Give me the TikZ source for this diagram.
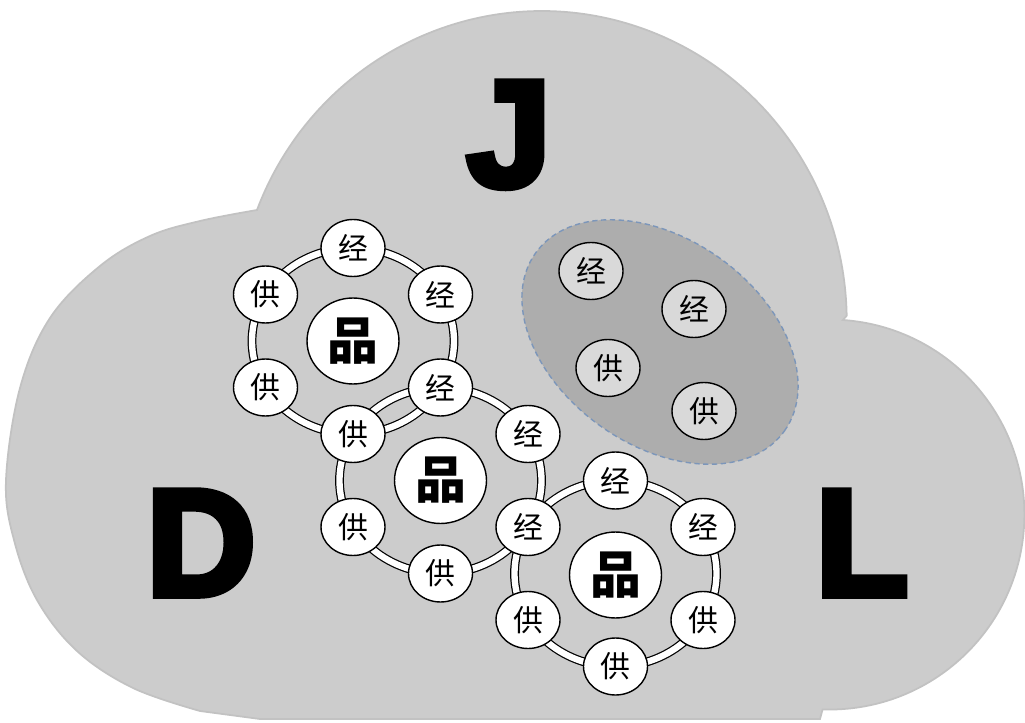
\documentclass[tikz,border=0pt]{standalone}
\usepackage{fontspec}
\newfontfamily\cjk{Noto Sans CJK SC}
\newfontfamily\letterfont{Liberation Sans}[BoldFeatures={FakeBold=5}]
\usetikzlibrary{shapes.geometric,calc}

\definecolor{cloudgray}{RGB}{204,204,204}
\definecolor{cloudedge}{RGB}{194,194,194}
\definecolor{groupgray}{RGB}{173,173,173}
\definecolor{membergray}{RGB}{217,217,217}
\definecolor{dashblue}{RGB}{124,150,186}

\tikzset{
	member/.style={draw, ellipse, fill=white, line width=0.8pt, minimum width=1.28cm, minimum height=1.14cm, inner sep=0pt, font=\cjk\fontsize{17}{17}\selectfont},
	hub/.style={member, minimum width=1.84cm, minimum height=1.72cm, font=\cjk\bfseries\fontsize{29}{29}\selectfont},
	ingroup/.style={member, fill=membergray},
	ring/.style={line width=0.7pt, double=white, double distance=3.6pt},
	bigletter/.style={font=\letterfont\bfseries\fontsize{86}{86}\selectfont, inner sep=0pt, anchor=base}
}

\begin{document}
\begin{tikzpicture}[x=0.02cm,y=0.02cm]
	\useasboundingbox (0,0) rectangle (1025,-723);
	
	% cloud
	\fill[cloudgray, draw=cloudedge, line width=1pt] (257,-210) arc [start angle=159, end angle=1, x radius=305, y radius=310]
		-- (843,-320) arc [start angle=86, end angle=-92, radius=195]
		-- (820,-719) -- (260,-719)
		-- plot[smooth, tension=0.6] coordinates {(200,-711) (133,-688) (77,-651) (37,-600) (14,-540) (6,-480) (20,-388) (50,-318) (100,-266) (150,-236) (200,-221) (257,-210)}
		-- cycle;
	
	\node[bigletter] (J) at (509,-186) {J};
	\node[bigletter] (D) at (201,-595) {D};
	\node[bigletter] (L) at (862,-595) {L};
	
	% group
	\node[draw=dashblue, dash pattern=on 3pt off 2pt, line width=0.8pt, fill=groupgray, ellipse, minimum width=6.12cm, minimum height=4.12cm, inner sep=0pt, rotate=-35.6] (grp) at (660,-342) {};
	\node[ingroup] (g1) at (591,-271) {经};
	\node[ingroup] (g2) at (694,-309) {经};
	\node[ingroup] (g3) at (608,-368) {供};
	\node[ingroup] (g4) at (704,-411) {供};
	
	% hubs and rings
	\node[hub] (p1) at (353,-341) {品};
	\node[hub] (p2) at (440.5,-480.5) {品};
	\node[hub] (p3) at (615.5,-575) {品};
	\draw[ring] (p1) ellipse [x radius=101, y radius=93];
	\draw[ring] (p2) ellipse [x radius=101, y radius=93];
	\draw[ring] ($(p3)+(0,1.5)$) ellipse [x radius=101, y radius=93];
	
	\node[member] (a1) at ($(p1)+(0,93)$) {经};
	\node[member] (a2) at ($(p1)+(87.5,46.5)$) {经};
	\node[member] (a3) at ($(p1)+(87.5,-46.5)$) {经};
	\node[member] (a4) at ($(p1)+(0,-93)$) {供};
	\node[member] (a5) at ($(p1)+(-87.5,-46.5)$) {供};
	\node[member] (a6) at ($(p1)+(-87.5,46.5)$) {供};
	
	\node[member] (b2) at ($(p2)+(87.5,46.5)$) {经};
	\node[member] (b3) at ($(p2)+(87.5,-46.5)$) {经};
	\node[member] (b4) at ($(p2)+(0,-93)$) {供};
	\node[member] (b5) at ($(p2)+(-87.5,-46.5)$) {供};
	
	\node[member] (c1) at ($(p3)+(0,94.5)$) {经};
	\node[member] (c2) at ($(p3)+(87.5,48)$) {经};
	\node[member] (c3) at ($(p3)+(87.5,-45)$) {供};
	\node[member] (c4) at ($(p3)+(0,-91.5)$) {供};
	\node[member] (c5) at ($(p3)+(-87.5,-45)$) {供};
\end{tikzpicture}
\end{document}
